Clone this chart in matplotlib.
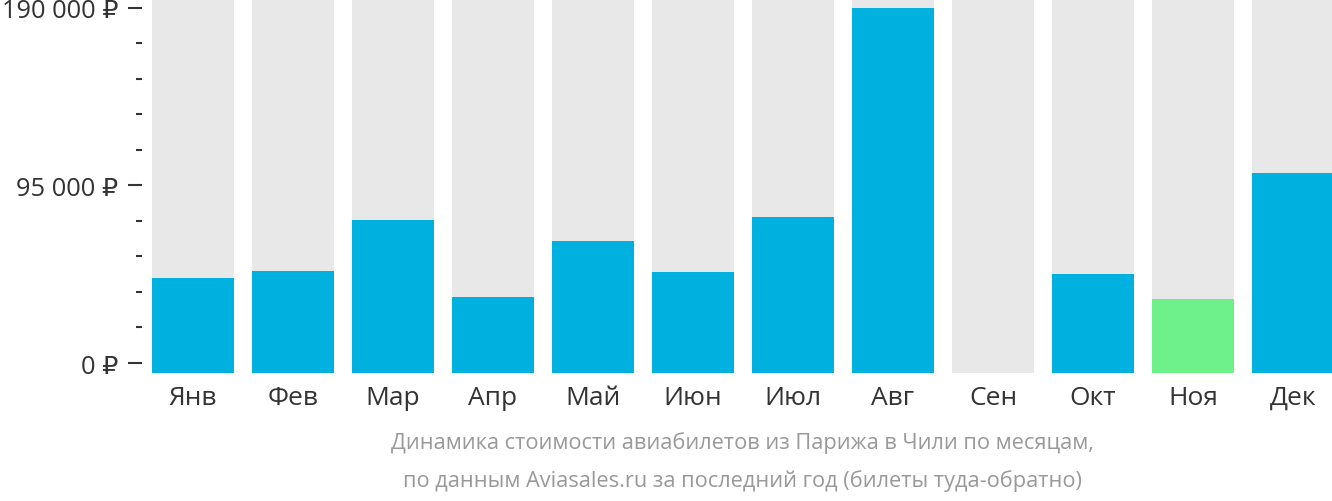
import numpy as np
import matplotlib
matplotlib.use("Agg")
import matplotlib.pyplot as plt

plt.rcParams['font.family'] = ['Open Sans', 'DejaVu Sans']

months = ['Янв', 'Фев', 'Мар', 'Апр', 'Май', 'Июн', 'Июл', 'Авг', 'Сен', 'Окт', 'Ноя', 'Дек']
prices = [45500, 49200, 76500, 35300, 65300, 48700, 78100, 190000, np.nan, 47600, 34300, 101700]
cheapest = 'Ноя'
tick_values = [0, 95000, 190000]
tick_labels = ['0 ₽', '95 000 ₽', '190 000 ₽']
caption = ['Динамика стоимости авиабилетов из Парижа в Чили по месяцам,',
           'по данным Aviasales.ru за последний год (билеты туда-обратно)']

W, H = 1332, 502
fig = plt.figure(figsize=(W / 100, H / 100), dpi=100)
ax = fig.add_axes([152 / W, 1 - 374 / H, (1332 - 152) / W, 374 / H])
for s in ax.spines.values():
    s.set_visible(False)
ax.spines['left'].set_position(('outward', 7.2))  # ~10 px gap between ticks and bars

ymin, ymax = -5350, 194800
x = np.arange(len(months))
ax.bar(x, ymax - ymin, bottom=ymin, width=0.82, color='#e8e8e8', zorder=1)
colors = ['#6ef08a' if m == cheapest else '#00b0de' for m in months]
vals = np.array(prices)
ax.bar(x, np.nan_to_num(vals - ymin, nan=0), bottom=ymin, width=0.82, color=colors, zorder=2)

ax.set_xlim(-0.41, 11.39)
ax.set_ylim(ymin, ymax)
ax.set_xticks(x)
ax.set_xticklabels(months, fontsize=19, color='#333333')
ax.tick_params(axis='x', length=0, pad=8.5)

ax.set_yticks(tick_values)
ax.set_yticklabels(tick_labels, fontsize=18.3, color='#333333')
ax.set_yticks(np.arange(0, 190001, 19000), minor=True)
ax.tick_params(axis='y', which='major', length=10, width=1.5, color='#333333', pad=7.2)
ax.tick_params(axis='y', which='minor', length=4.3, width=1.5, color='#333333')

cx = (152 + 1332) / 2 / W
fig.text(cx, 1 - 443 / H, caption[0], ha='center', va='center', fontsize=15.7, color='#999999')
fig.text(cx, 1 - 481 / H, caption[1], ha='center', va='center', fontsize=15.7, color='#999999')

fig.savefig('out.png', dpi=100)
